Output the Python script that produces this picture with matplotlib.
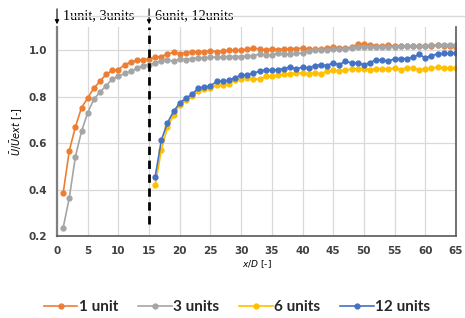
import matplotlib.pyplot as plt

# x/D positions
x_13 = list(range(1, 66))
x_612 = list(range(16, 66))

# normalised velocity
one_unit = [0.384, 0.567, 0.670, 0.753, 0.794, 0.837, 0.866, 0.896, 0.913, 0.917,
            0.937, 0.949, 0.956, 0.960, 0.961, 0.970, 0.973, 0.984, 0.991, 0.984,
            0.990, 0.991, 0.994, 0.994, 0.997, 0.994, 0.996, 1.000, 1.000, 1.000,
            1.004, 1.009, 1.006, 1.001, 1.006, 1.003, 1.006, 1.007, 1.007, 1.009,
            1.004, 1.004, 1.004, 1.009, 1.013, 1.011, 1.009, 1.013, 1.026, 1.026,
            1.023, 1.019, 1.017, 1.023, 1.017, 1.017, 1.019, 1.019, 1.019, 1.019,
            1.017, 1.021, 1.019, 1.017, 1.014]
three_units = [0.235, 0.364, 0.542, 0.651, 0.731, 0.789, 0.820, 0.847, 0.876, 0.887,
               0.900, 0.909, 0.922, 0.934, 0.937, 0.946, 0.955, 0.959, 0.952, 0.963,
               0.960, 0.964, 0.967, 0.967, 0.970, 0.970, 0.971, 0.973, 0.973, 0.973,
               0.976, 0.976, 0.984, 0.980, 0.980, 0.987, 0.984, 0.984, 0.987, 0.987,
               0.996, 1.000, 1.000, 0.999, 1.004, 1.004, 1.004, 1.009, 1.013, 1.013,
               1.013, 1.013, 1.013, 1.013, 1.016, 1.017, 1.017, 1.017, 1.019, 1.019,
               1.022, 1.024, 1.024, 1.024, 1.024]
six_units = [0.418, 0.570, 0.670, 0.720, 0.766, 0.787, 0.803, 0.824, 0.834, 0.837,
             0.849, 0.852, 0.856, 0.873, 0.877, 0.880, 0.877, 0.874, 0.887, 0.887,
             0.892, 0.896, 0.899, 0.903, 0.902, 0.899, 0.902, 0.899, 0.910, 0.913,
             0.910, 0.913, 0.920, 0.920, 0.920, 0.917, 0.920, 0.920, 0.920, 0.923,
             0.917, 0.924, 0.923, 0.916, 0.920, 0.923, 0.927, 0.924, 0.924, 0.923]
twelve_units = [0.455, 0.613, 0.687, 0.737, 0.773, 0.794, 0.810, 0.837, 0.841, 0.846,
                0.866, 0.866, 0.870, 0.882, 0.892, 0.894, 0.902, 0.909, 0.916, 0.913,
                0.917, 0.920, 0.927, 0.920, 0.927, 0.923, 0.934, 0.937, 0.934, 0.946,
                0.937, 0.954, 0.944, 0.947, 0.937, 0.947, 0.959, 0.957, 0.952, 0.964,
                0.964, 0.964, 0.970, 0.982, 0.967, 0.977, 0.984, 0.986, 0.986, 0.989]

fig = plt.figure(figsize=(4.65, 3.18), dpi=100)
ax = fig.add_axes([0.1226, 0.258, 0.858, 0.657])

ax.plot(x_13, one_unit, color='#ED7D31', marker='o', markersize=3.5, linewidth=1.2, label='1 unit')
ax.plot(x_13, three_units, color='#A5A5A5', marker='o', markersize=3.5, linewidth=1.2, label='3 units')
ax.plot(x_612, six_units, color='#FFC000', marker='o', markersize=3.5, linewidth=1.2, label='6 units')
ax.plot(x_612, twelve_units, color='#4472C4', marker='o', markersize=3.5, linewidth=1.2, label='12 units')

# boundary between the two groups
ax.plot([15, 15], [0.25, 1.1], color='black', linestyle=(0, (3, 2)), linewidth=2, zorder=5)

ax.set_xlim(0, 65)
ax.set_ylim(0.2, 1.1)
ax.set_xticks(range(0, 70, 5))
ax.set_yticks([0.2, 0.4, 0.6, 0.8, 1.0])
ax.set_yticklabels(['0.2', '0.4', '0.6', '0.8', '1.0'])
ax.grid(True, color='#D9D9D9', linewidth=0.9)
ax.set_axisbelow(True)

for lab in ax.get_xticklabels() + ax.get_yticklabels():
    lab.set_fontweight('bold')
    lab.set_fontsize(7.5)
    lab.set_color('#404040')
ax.tick_params(length=0, pad=7)

ax.spines['top'].set_visible(False)
ax.spines['left'].set_color('#7F7F7F')
ax.spines['left'].set_linewidth(1.6)
ax.spines['bottom'].set_color('#595959')
ax.spines['bottom'].set_linewidth(1.2)
ax.spines['right'].set_color('#595959')
ax.spines['right'].set_linewidth(1.2)

ax.set_xlabel(r'$x/D$ [-]', fontsize=6.5, labelpad=2)
ax.set_ylabel(r'$\bar{U}/\bar{U}ext$ [-]', fontsize=7, labelpad=3)

# annotations above the plot
fig.add_artist(plt.Line2D([0.15, 1.0], [0.95, 0.95], color='#D9D9D9', linewidth=1))
for xd, txt in [(0, '1unit, 3units'), (15, '6unit, 12units')]:
    ax.annotate('', xy=(xd, 1.1), xytext=(xd, 1.19), annotation_clip=False,
                arrowprops=dict(arrowstyle='-|>', color='black', lw=0.8, mutation_scale=6))
    ax.text(xd + 0.9, 1.15, txt, family='Liberation Serif', fontsize=10.3,
            va='center', ha='left', clip_on=False)

leg = fig.legend(loc='center', bbox_to_anchor=(0.51, 0.035), ncol=4, frameon=False,
                 prop={'family': 'Lato', 'weight': 'bold', 'size': 11},
                 handlelength=2.2, handletextpad=0.1, columnspacing=1.3)
for t in leg.get_texts():
    t.set_color('#262626')

fig.savefig('out.png', dpi=100)
